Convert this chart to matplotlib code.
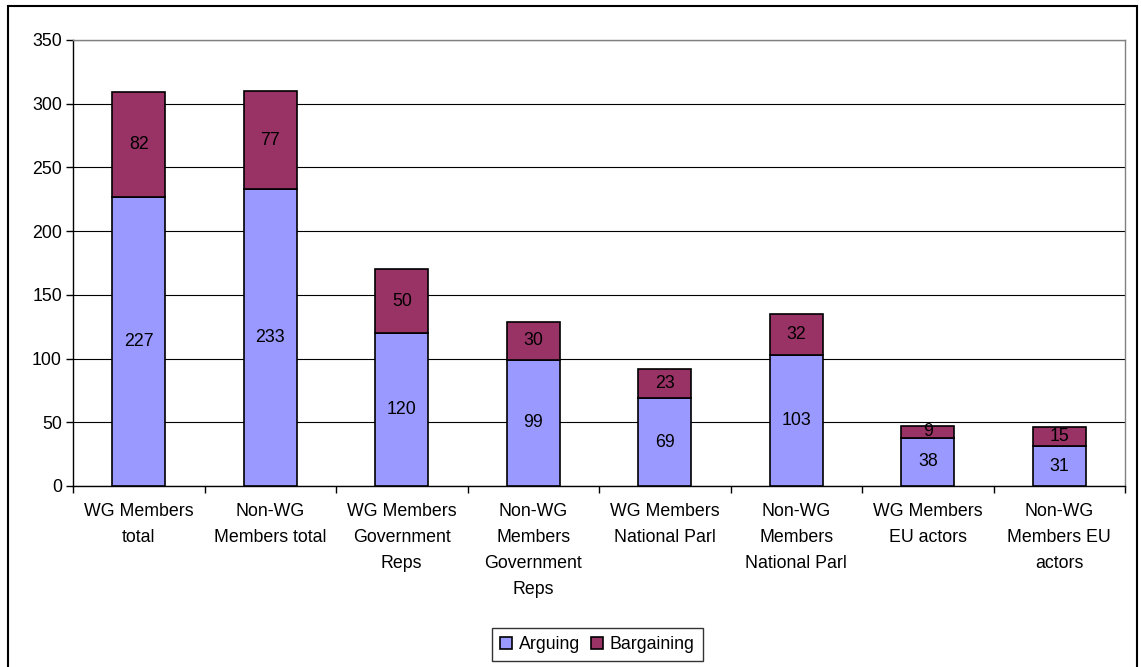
import matplotlib
matplotlib.use("Agg")
import matplotlib.pyplot as plt
from matplotlib.patches import Rectangle
import numpy as np

categories = [
    "WG Members\ntotal",
    "Non-WG\nMembers total",
    "WG Members\nGovernment\nReps",
    "Non-WG\nMembers\nGovernment\nReps",
    "WG Members\nNational Parl",
    "Non-WG\nMembers\nNational Parl",
    "WG Members\nEU actors",
    "Non-WG\nMembers EU\nactors",
]
arguing = [227, 233, 120, 99, 69, 103, 38, 31]
bargaining = [82, 77, 50, 30, 23, 32, 9, 15]
y_ticks = [0, 50, 100, 150, 200, 250, 300, 350]

plt.rcParams["font.family"] = ["Liberation Sans", "DejaVu Sans"]
FS = 12.8

W, H = 1141, 667
fig = plt.figure(figsize=(W / 100, H / 100), dpi=100)
ax = fig.add_axes([73 / W, 1 - 486 / H, (1125 - 73) / W, (486 - 40) / H])

x = np.arange(len(categories))
c_arg = "#9999FF"
c_bar = "#993366"
bw = 0.4
ax.bar(x, arguing, bw, color=c_arg, edgecolor="black", linewidth=1.2, label="Arguing", zorder=3)
ax.bar(x, bargaining, bw, bottom=arguing, color=c_bar, edgecolor="black", linewidth=1.2,
       label="Bargaining", zorder=3)

for xi, a, b in zip(x, arguing, bargaining):
    ax.text(xi, a / 2, str(a), ha="center", va="center", fontsize=FS, zorder=4)
    ax.text(xi, a + b / 2, str(b), ha="center", va="center", fontsize=FS, zorder=4)

ax.set_xlim(-0.5, len(categories) - 0.5)
ax.set_ylim(0, 350)
ax.set_yticks(y_ticks)
ax.set_yticklabels([str(v) for v in y_ticks], fontsize=FS)
ax.yaxis.grid(True, color="black", linewidth=0.8, zorder=0)
ax.set_axisbelow(True)

# category tick marks sit on the boundaries between groups
ax.set_xticks(np.arange(-0.5, len(categories), 1.0))
ax.set_xticklabels([])
ax.tick_params(axis="x", length=5, width=1, direction="out")
ax.tick_params(axis="y", length=5, width=1, direction="out", pad=3)
for xi, lab in zip(x, categories):
    ax.text(xi, -13.5, lab, ha="center", va="top", fontsize=FS, linespacing=1.68,
            transform=ax.transData)

for s in ["left", "bottom"]:
    ax.spines[s].set_color("black")
    ax.spines[s].set_linewidth(1)
for s in ["top", "right"]:
    ax.spines[s].set_color("#808080")
    ax.spines[s].set_linewidth(1)

leg = fig.legend(loc="center", bbox_to_anchor=(597.5 / W, 1 - 644.5 / H), ncol=2, fontsize=FS,
                 frameon=True, fancybox=False, edgecolor="black", handlelength=0.65,
                 handleheight=0.65, handletextpad=0.4, columnspacing=0.6, borderpad=0.45)
leg.get_frame().set_linewidth(1)

# outer chart border (runs off the bottom edge)
fig.patches.append(Rectangle((8 / W, -0.02), (1136.5 - 8) / W, 1.02 - 6 / H,
                             transform=fig.transFigure, fill=False, edgecolor="black",
                             linewidth=1.5))

fig.savefig("out.png", dpi=100)
